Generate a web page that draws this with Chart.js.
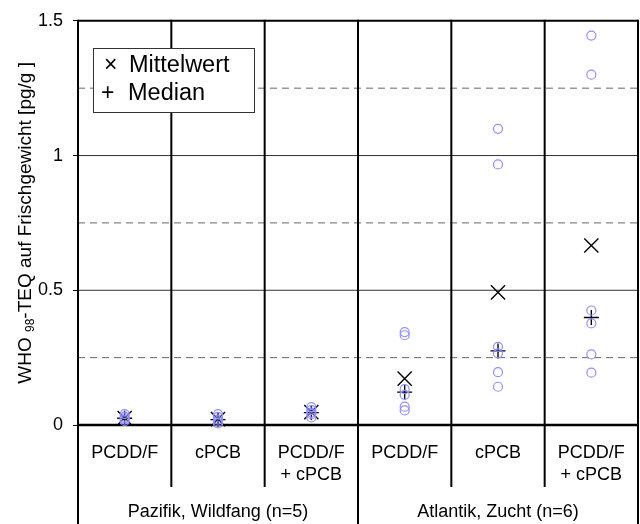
<!DOCTYPE html>
<html>
<head>
<meta charset="utf-8">
<script src="https://cdn.jsdelivr.net/npm/chart.js@4/dist/chart.umd.min.js"></script>
<style>
  html, body { margin: 0; padding: 0; background: #fff; }
  #wrap { width: 640px; height: 524px; position: relative; }
</style>
</head>
<body>
<div id="wrap"><canvas id="c" width="640" height="524"></canvas></div>
<script>
// ---- data ----
const categories = [['PCDD/F'], ['cPCB'], ['PCDD/F', '+ cPCB'], ['PCDD/F'], ['cPCB'], ['PCDD/F', '+ cPCB']];
const groups = ['Pazifik, Wildfang (n=5)', 'Atlantik, Zucht (n=6)'];
const pazifikPCDDF = [0.014, 0.020, 0.025, 0.031, 0.040];
const pazifikCPCB = [0.006, 0.013, 0.020, 0.030, 0.040];
const pazifikSum = [0.028, 0.040, 0.046, 0.055, 0.066];
const atlantikPCDDF = [0.345, 0.333, 0.133, 0.112, 0.068, 0.054];
const atlantikCPCB = [1.099, 0.967, 0.290, 0.266, 0.196, 0.142];
const atlantikSum = [1.445, 1.300, 0.425, 0.377, 0.262, 0.194];
const meanValues = [0.026, 0.022, 0.048, 0.172, 0.492, 0.666];
const medianValues = [0.025, 0.020, 0.046, 0.122, 0.275, 0.399];
const yTicks = [0, 0.5, 1, 1.5];
const solidGrid = [0.5, 1.0];
const dashedGrid = [0.25, 0.75, 1.25];
const legendSymbols = ['\u00D7', '+'];
const legendLabels = ['Mittelwert', 'Median'];
const yTitle = ['WHO ', '98', '-TEQ auf Frischgewicht [pg/g ]'];

const sampleColumns = [pazifikPCDDF, pazifikCPCB, pazifikSum, atlantikPCDDF, atlantikCPCB, atlantikSum];
const samplePoints = [];
sampleColumns.forEach((col, i) => col.forEach(v => samplePoints.push({ x: i + 0.5, y: v })));
const meanPoints = meanValues.map((v, i) => ({ x: i + 0.5, y: v }));
const medianPoints = medianValues.map((v, i) => ({ x: i + 0.5, y: v }));

const FONT = "'Liberation Sans', Arial, sans-serif";

const framePlugin = {
  id: 'frame',
  beforeDatasetsDraw(chart) {
    const { ctx, chartArea: a, scales: { x, y } } = chart;
    ctx.save();
    const hline = (py) => { ctx.beginPath(); ctx.moveTo(a.left, py); ctx.lineTo(a.right, py); ctx.stroke(); };
    ctx.lineWidth = 1;
    ctx.strokeStyle = '#666';
    ctx.setLineDash([7, 5]);
    dashedGrid.forEach(v => hline(y.getPixelForValue(v)));
    ctx.setLineDash([]);
    ctx.strokeStyle = '#333';
    solidGrid.forEach(v => hline(y.getPixelForValue(v)));
    ctx.strokeStyle = '#000';
    ctx.lineWidth = 2;
    hline(y.getPixelForValue(1.5));
    ctx.lineWidth = 2.5;
    hline(y.getPixelForValue(0));
    // column dividers
    ctx.lineWidth = 2;
    for (let i = 0; i <= categories.length; i++) {
      const px = x.getPixelForValue(i);
      const bottom = (i % 3 === 0) ? chart.height : a.bottom + 62;
      ctx.beginPath();
      ctx.moveTo(px, a.top - 1);
      ctx.lineTo(px, bottom);
      ctx.stroke();
    }
    ctx.restore();
  },
  afterDatasetsDraw(chart) {
    const { ctx, chartArea: a, scales: { x, y } } = chart;
    ctx.save();
    // legend box
    ctx.fillStyle = '#fff';
    ctx.fillRect(93, 48, 162, 65);
    ctx.strokeStyle = '#333';
    ctx.lineWidth = 1;
    ctx.strokeRect(93.5, 48.5, 161, 64);
    ctx.fillStyle = '#000';
    ctx.textAlign = 'left';
    ctx.textBaseline = 'alphabetic';
    ctx.font = '23px ' + FONT;
    ctx.fillText(legendSymbols[0], 104, 72);
    ctx.fillText(legendSymbols[1], 101, 100);
    ctx.font = '23.5px ' + FONT;
    ctx.fillText(legendLabels[0], 129, 72);
    ctx.fillText(legendLabels[1], 128, 100);

    // category labels
    ctx.font = '18px ' + FONT;
    ctx.textAlign = 'center';
    ctx.textBaseline = 'middle';
    categories.forEach((lines, i) => {
      const px = x.getPixelForValue(i + 0.5);
      lines.forEach((t, j) => ctx.fillText(t, px, a.bottom + 28 + j * 22.5));
    });
    groups.forEach((g, i) => {
      const px = x.getPixelForValue(i * 3 + 1.5);
      ctx.fillText(g, px, a.bottom + 87);
    });

    // y-axis title with subscript
    ctx.translate(31, (a.top + a.bottom) / 2);
    ctx.rotate(-Math.PI / 2);
    ctx.textAlign = 'left';
    ctx.textBaseline = 'alphabetic';
    const fonts = ['19px ' + FONT, '12px ' + FONT, '19px ' + FONT];
    const dys = [0, 3, 0];
    let total = 0;
    const widths = yTitle.map((t, i) => { ctx.font = fonts[i]; const w = ctx.measureText(t).width; total += w; return w; });
    let cx = -total / 2;
    yTitle.forEach((t, i) => { ctx.font = fonts[i]; ctx.fillText(t, cx, dys[i]); cx += widths[i]; });
    ctx.restore();
  }
};

new Chart(document.getElementById('c'), {
  type: 'scatter',
  data: {
    datasets: [
      {
        label: 'Einzelwerte',
        data: samplePoints,
        pointStyle: 'circle',
        radius: 4.5,
        borderWidth: 1.2,
        borderColor: '#8f8fff',
        backgroundColor: 'rgba(0,0,0,0)',
        clip: false
      },
      {
        label: 'Mittelwert',
        data: meanPoints,
        pointStyle: 'crossRot',
        radius: 10,
        borderWidth: 1.4,
        borderColor: '#000',
        backgroundColor: '#000',
        clip: false
      },
      {
        label: 'Median',
        data: medianPoints,
        pointStyle: 'cross',
        radius: 7.5,
        borderWidth: 1.4,
        borderColor: '#000',
        backgroundColor: '#000',
        clip: false
      }
    ]
  },
  options: {
    responsive: false,
    animation: false,
    events: [],
    layout: { autoPadding: false, padding: { top: 19, right: 2, bottom: 99, left: 0 } },
    plugins: { legend: { display: false }, tooltip: { enabled: false } },
    scales: {
      x: { type: 'linear', min: 0, max: categories.length, display: false, ticks: { display: false } },
      y: {
        type: 'linear',
        min: 0,
        max: 1.5,
        afterFit(scale) { scale.width = 78; },
        afterBuildTicks(scale) { scale.ticks = yTicks.map(v => ({ value: v })); },
        ticks: {
          font: { family: FONT, size: 18 },
          color: '#000',
          padding: 10,
          callback: v => String(v)
        },
        grid: { drawOnChartArea: false, drawTicks: true, tickLength: 5, color: '#000', lineWidth: 1 },
        border: { display: false }
      }
    }
  },
  plugins: [framePlugin]
});
</script>
</body>
</html>
